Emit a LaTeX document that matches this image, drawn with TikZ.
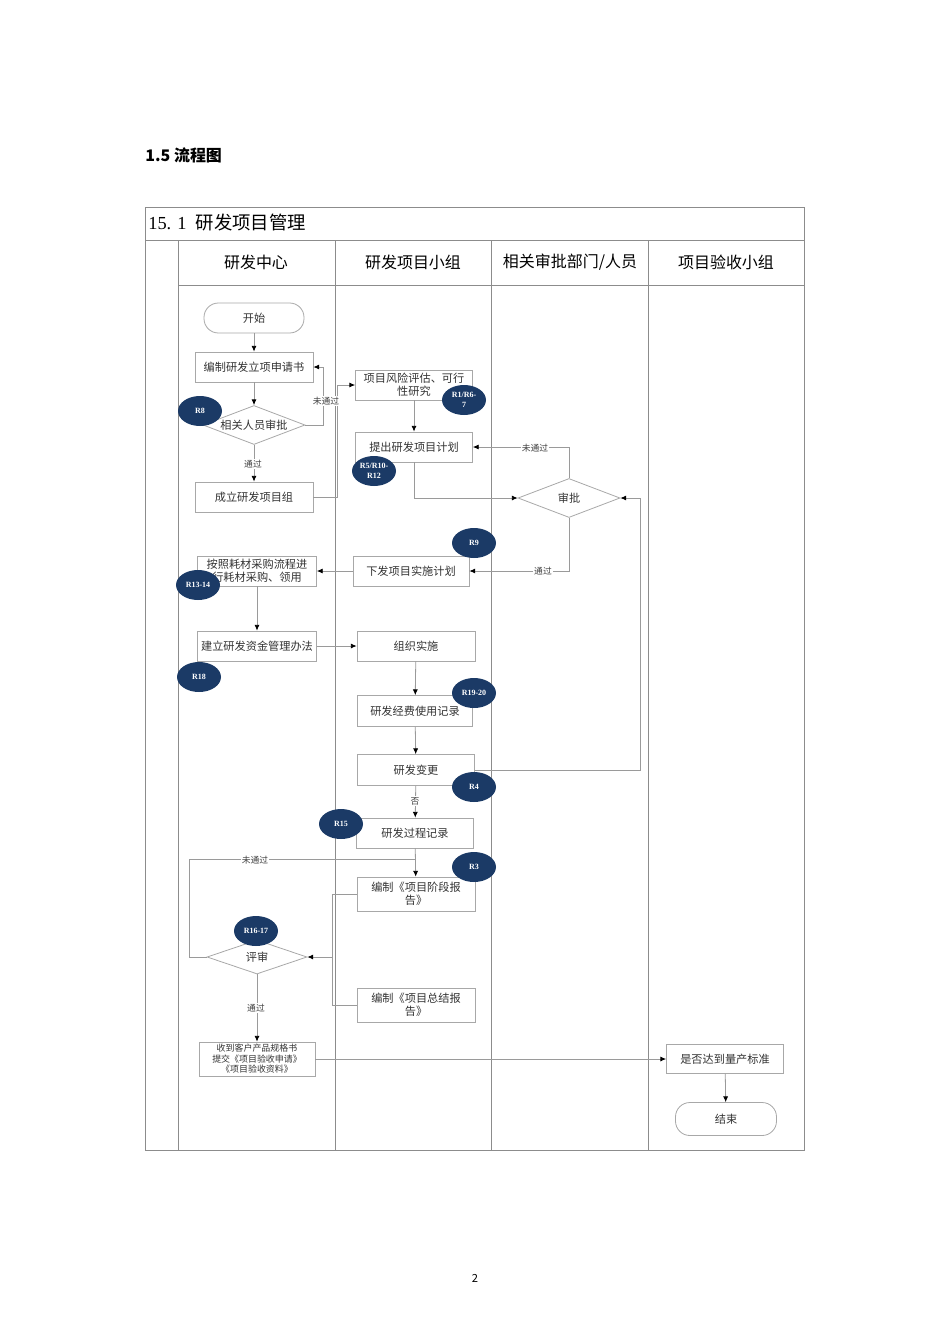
\documentclass[tikz,border=0pt]{standalone}
\usepackage{fontspec}
\setmainfont{Noto Sans CJK SC}
\newfontfamily\serifnum{Liberation Serif}
\usetikzlibrary{calc,shapes.geometric,arrows.meta}

\definecolor{lanegray}{HTML}{8C8C8C}
\definecolor{boxgray}{HTML}{A8A8A8}
\definecolor{linegray}{HTML}{9A9A9A}
\definecolor{tagblue}{HTML}{1B3A66}

\tikzset{
  lane/.style={draw=lanegray, line width=0.5pt},
  box/.style={draw=boxgray, fill=white, line width=0.5pt, minimum width=118*0.626pt,
    minimum height=30*0.626pt, inner sep=1pt, align=center, text=black!80,
    font=\fontsize{7}{8.4}\selectfont},
  term/.style={box, minimum width=100*0.626pt, rounded corners=9pt},
  decide/.style={draw=boxgray, fill=white, line width=0.5pt, shape=diamond, aspect=2.6,
    minimum width=102*0.626pt, minimum height=39*0.626pt, inner sep=0pt, text=black!80,
    font=\fontsize{7}{8.4}\selectfont},
  tag/.style={ellipse, fill=tagblue, text=white, minimum width=44*0.626pt,
    minimum height=30*0.626pt, inner sep=0pt, align=center,
    font=\serifnum\bfseries\fontsize{5}{6}\selectfont},
  note/.style={fill=white, inner sep=0.6pt, text=black!75, font=\fontsize{5.5}{6}\selectfont},
  line/.style={draw=linegray, line width=0.5pt},
  flow/.style={line, -{Latex[length=3.6pt,width=3.2pt,color=black]}}
}

\begin{document}
\begin{tikzpicture}[x=0.626pt,y=-0.626pt]
\useasboundingbox (0,0) rectangle (950,1344);

% page heading
\node[anchor=west, inner sep=0pt, font=\bfseries\fontsize{10}{12}\selectfont] (head) at (145,155) {1.5 流程图};
\node[inner sep=0pt, font=\fontsize{7}{8}\selectfont] (page) at (475,1278) {2};

% frame and lanes
\draw[lane] (145,207) rectangle (804,1150);
\draw[lane] (145,240) -- (804,240);
\draw[lane] (178,285) -- (804,285);
\foreach \x in {178,335,491,648}
    \draw[lane] (\x,240) -- (\x,1150);
\node[anchor=west, inner sep=0pt, font=\fontsize{11.5}{13}\selectfont] (title) at (148,223)
    {{\serifnum 15. 1}\hspace{0.5em}研发项目管理};
\foreach \x/\t [count=\i] in {256/研发中心, 413/研发项目小组, 570/{相关审批部门/人员}, 726/项目验收小组}
    \node[inner sep=0pt, font=\fontsize{10}{12}\selectfont] (lane\i) at (\x,262) {\t};

% steps
\node[term] (start) at (254,318) {开始};
\node[box] (apply) at (254,367) {编制研发立项申请书};
\node[decide] (check) at (254,425) {相关人员审批};
\node[box] (team) at (254,497) {成立研发项目组};
\node[box, minimum width=117*0.626pt] (risk) at (414,385) {项目风险评估、可行\\性研究};
\node[box, minimum width=117*0.626pt] (plan) at (414,447) {提出研发项目计划};
\node[decide] (approve) at (569,498) {审批};
\node[box, minimum width=116*0.626pt] (issue) at (411,571) {下发项目实施计划};
\node[box, minimum width=119*0.626pt] (buy) at (257,571) {按照耗材采购流程进\\行耗材采购、领用};
\node[box, minimum width=119*0.626pt] (fund) at (257,646) {建立研发资金管理办法};
\node[box] (run) at (416,646) {组织实施};
\node[box, minimum width=115*0.626pt, minimum height=31*0.626pt] (cost) at (415,711) {研发经费使用记录};
\node[box, minimum width=117*0.626pt, minimum height=31*0.626pt] (change) at (416,770) {研发变更};
\node[box, minimum width=117*0.626pt] (record) at (415,833) {研发过程记录};
\node[box, minimum height=34*0.626pt] (stage) at (416,894) {编制《项目阶段报\\告》};
\node[box, minimum height=34*0.626pt] (final) at (416,1005) {编制《项目总结报\\告》};
\node[decide, minimum width=100*0.626pt, minimum height=34*0.626pt] (review) at (257,957) {评审};
\node[box, minimum width=116*0.626pt, minimum height=34*0.626pt, inner sep=0pt,
    font=\fontsize{5.6}{6.6}\selectfont] (submit) at (257,1059)
    {收到客户产品规格书\\提交《项目验收申请》\\《项目验收资料》};
\node[box, minimum width=117*0.626pt, minimum height=29*0.626pt] (std) at (725,1059) {是否达到量产标准};
\node[term, minimum width=101*0.626pt, minimum height=33*0.626pt] (end) at (726,1119) {结束};

% connectors
\draw[flow] (start) -- (apply);
\draw[flow] (apply) -- (check);
\draw[flow] (check.east) -| ($(apply.east)+(10,0)$) -- (apply.east);
\draw[flow] (check) -- (team);
\draw[flow] (team.east) -| ($(risk.west)+(-18,0)$) -- (risk.west);
\draw[flow] (risk) -- (plan);
\draw[flow] (plan.south) |- (approve.west);
\draw[flow] (approve.north) |- (plan.east);
\draw[flow] (approve.south) |- (issue.east);
\draw[flow] (issue) -- (buy);
\draw[flow] (buy) -- (fund);
\draw[flow] (fund) -- (run);
\draw[flow] (run) -- (cost);
\draw[flow] (cost) -- (change);
\draw[flow] (change.east) -| ($(approve.east)+(20,0)$) -- (approve.east);
\draw[flow] (change) -- (record);
\draw[flow] (record) -- (stage);
\coordinate (join) at (332,957);
\coordinate (back) at ($(record.south)!0.4!(stage.north)$);
\draw[line] (stage.west) -| (join);
\draw[line] (final.west) -| (join);
\draw[flow] (join) -- (review.east);
\draw[line] (review.west) -- ++(-17,0) |- (back);
\draw[flow] (review) -- (submit);
\draw[flow] (submit) -- (std);
\draw[flow] (std) -- (end);

% connector labels
\node[note] (no1) at (326,401) {未通过};
\node[note] (yes1) at (253,464) {通过};
\node[note] (no2) at (535,448) {未通过};
\node[note] (yes2) at (543,571) {通过};
\node[note] (no3) at (415,801) {否};
\node[note] (no4) at (255,860) {未通过};
\node[note] (yes3) at (256,1008) {通过};

% risk tags
\foreach \pos/\txt [count=\i] in {(200,411)/R8, (464,400)/{R1/R6-\\7}, (374,471)/{R5/R10-\\R12},
    (474,543)/R9, (198,585)/R13-14, (199,677)/R18, (474,693)/R19-20, (474,787)/R4,
    (341,824)/R15, (474,867)/R3, (256,931)/R16-17}
    \node[tag] (tag\i) at \pos {\txt};

\end{tikzpicture}
\end{document}
